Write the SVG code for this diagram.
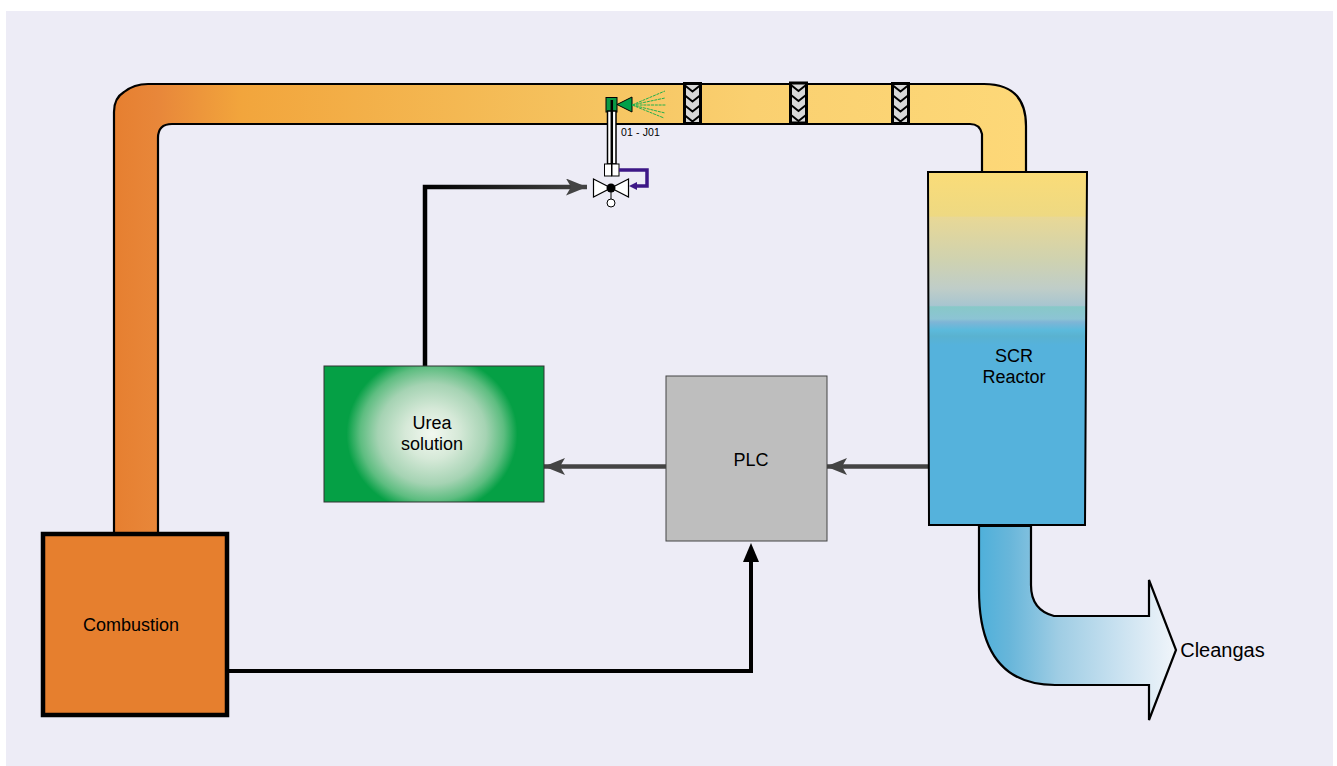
<svg xmlns="http://www.w3.org/2000/svg" width="1337" height="766" viewBox="0 0 1337 766">
<style>
text{font-family:"Liberation Sans",Arial,sans-serif;font-size:18px;fill:#000;text-anchor:middle}
.conn{fill:none;stroke:#000;stroke-width:4}
.grey{fill:none;stroke:#444;stroke-width:4.500}
</style>
<defs>
<linearGradient id="duct" gradientUnits="userSpaceOnUse" x1="113" y1="0" x2="1027" y2="0">
<stop offset="0" stop-color="#e67f30"/><stop offset=".05" stop-color="#e8873a"/><stop offset=".14" stop-color="#f2a53c"/><stop offset=".5" stop-color="#f5c25e"/><stop offset=".7" stop-color="#fad070"/><stop offset="1" stop-color="#fdd878"/>
</linearGradient>
<linearGradient id="reactor" x1="0" y1="0" x2="0" y2="1">
<stop offset="0" stop-color="#fadc78"/><stop offset=".125" stop-color="#eed982"/><stop offset=".128" stop-color="#e8d896"/><stop offset=".25" stop-color="#cfd2b0"/><stop offset=".33" stop-color="#bfcdc8"/><stop offset=".378" stop-color="#a8c5d0"/><stop offset=".382" stop-color="#88c8c8"/><stop offset=".416" stop-color="#8cc4d4"/><stop offset=".425" stop-color="#7fb5d6"/><stop offset=".447" stop-color="#5cbadc"/><stop offset=".465" stop-color="#5ab2d0"/><stop offset=".49" stop-color="#55b2dc"/><stop offset="1" stop-color="#55b2dc"/>
</linearGradient>
<linearGradient id="out" gradientUnits="userSpaceOnUse" x1="980" y1="0" x2="1176" y2="0">
<stop offset="0" stop-color="#4fb0da"/><stop offset=".15" stop-color="#68b6da"/><stop offset=".4" stop-color="#9fcde4"/><stop offset=".7" stop-color="#c8e1f0"/><stop offset="1" stop-color="#f1f5fa"/>
</linearGradient>
<radialGradient id="urea" gradientUnits="userSpaceOnUse" cx="432" cy="434" r="90" gradientTransform="translate(0 30.400) scale(1 .93)">
<stop offset="0" stop-color="#f2f8f0"/><stop offset=".3" stop-color="#d6e9d8"/><stop offset=".6" stop-color="#a5d3b3"/><stop offset=".8" stop-color="#5dbd80"/><stop offset=".95" stop-color="#05a045"/>
</radialGradient>
<linearGradient id="fade" gradientUnits="userSpaceOnUse" x1="425" y1="0" x2="588" y2="0">
<stop offset="0" stop-color="#000"/><stop offset="1" stop-color="#444"/>
</linearGradient>
<marker id="ah" markerUnits="userSpaceOnUse" markerWidth="22" markerHeight="18" refX="21" refY="8.500" orient="auto"><path d="M0 0L21 8.500L0 17L5 8.500z" fill="#444"/></marker>
<g id="mix"><rect x="1.500" y="0" width="16" height="40" fill="#d8d8d8" stroke="#000" stroke-width="3"/><path d="M2 2l7.500 6l7.500-6M2 12l7.500 6l7.500-6M2 22l7.500 6l7.500-6M2 32l7.500 6l7.500-6" fill="none" stroke="#000" stroke-width="2"/></g>
</defs>
<rect width="1337" height="766" fill="#fff"/>
<rect x="6" y="11" width="1327" height="755" fill="#edecf6"/>

<g id="duct-gas">
<path d="M114 534V112Q114 98 124 92Q134 84 148 84H984Q1026 84 1026 126V174H982V134Q980 124 970 124H172Q158 124 158 138V534Z" fill="url(#duct)" stroke="#000" stroke-width="2.200"/>
<use href="#mix" x="683" y="83.500"/>
<use href="#mix" x="789" y="83"/>
<use href="#mix" x="891" y="83.500"/>
</g>

<g id="injector">
<path d="M632 97L617 104.500L632 112z" fill="#00a04a" stroke="#000" stroke-width="1"/>
<path d="M632 105L665 91M632 105L665 98M632 105H666M632 105L665 113M632 105L664 118" stroke="#22b04c" stroke-width="1" stroke-dasharray="3 .8" fill="none"/>
<rect x="606" y="97.500" width="11" height="14.500" fill="#0a9a45" stroke="#000" stroke-width="1"/>
<rect x="607.500" y="111" width="8.500" height="53" fill="#fff" stroke="#000" stroke-width="1.500"/>
<path d="M611.800 100V176" stroke="#000" stroke-width="2.500"/>
<rect x="604.500" y="164" width="7" height="12" fill="#fff" stroke="#000"/>
<rect x="612" y="164" width="7" height="12" fill="#fff" stroke="#000"/>
<path d="M619 170H647V186H634" fill="none" stroke="#3d1787" stroke-width="3.500"/>
<path d="M629 186L637 182V190z" fill="#3d1787"/>
<path d="M593.500 179L611 188L593.500 197zM628.500 179L611 188L628.500 197z" fill="#fff" stroke="#000" stroke-width="1.200"/>
<circle cx="611" cy="188" r="4.500" fill="#000"/>
<path d="M611 190V199" stroke="#000"/>
<circle cx="611" cy="203" r="4" fill="#fff" stroke="#000"/>
<text x="640.500" y="136" style="font-size:10.500px;letter-spacing:.15px">01 - J01</text>
</g>

<g id="connectors">
<path d="M425 366V187H587" fill="none" stroke="url(#fade)" stroke-width="4.500" marker-end="url(#ah)"/>
<path class="grey" d="M666 466.500H544" marker-end="url(#ah)"/>
<path class="grey" d="M929 466.500H826" marker-end="url(#ah)"/>
<path class="conn" d="M228 671H751V560"/>
<path d="M743 562L751 543L759 562z" fill="#000"/>
</g>

<g id="reactor-node">
<path d="M928 172H1087L1085 525H929z" fill="url(#reactor)" stroke="#000" stroke-width="2"/>
<text x="1014" y="362">SCR</text>
<text x="1014" y="383">Reactor</text>
</g>

<g id="urea-node">
<rect x="324" y="366" width="220" height="136" fill="url(#urea)" stroke="#333" stroke-width="1"/>
<text x="432" y="429">Urea</text>
<text x="432" y="450">solution</text>
</g>

<g id="plc-node">
<rect x="666" y="376" width="161" height="165" fill="#bebebe" stroke="#444" stroke-width="1"/>
<text x="751" y="466">PLC</text>
</g>

<g id="combustion-node">
<rect x="43" y="534" width="184" height="181" fill="#e67f2e" stroke="#000" stroke-width="4.500"/>
<text x="131" y="631">Combustion</text>
</g>

<g id="outlet">
<path d="M979 526V590Q979 685 1055 685H1149V720L1176 650L1149 580V616H1054Q1031 610 1031 585V526Z" fill="url(#out)" stroke="#000" stroke-width="2.200"/>
<text x="1222.500" y="657" style="font-size:20px">Cleangas</text>
</g>
</svg>
